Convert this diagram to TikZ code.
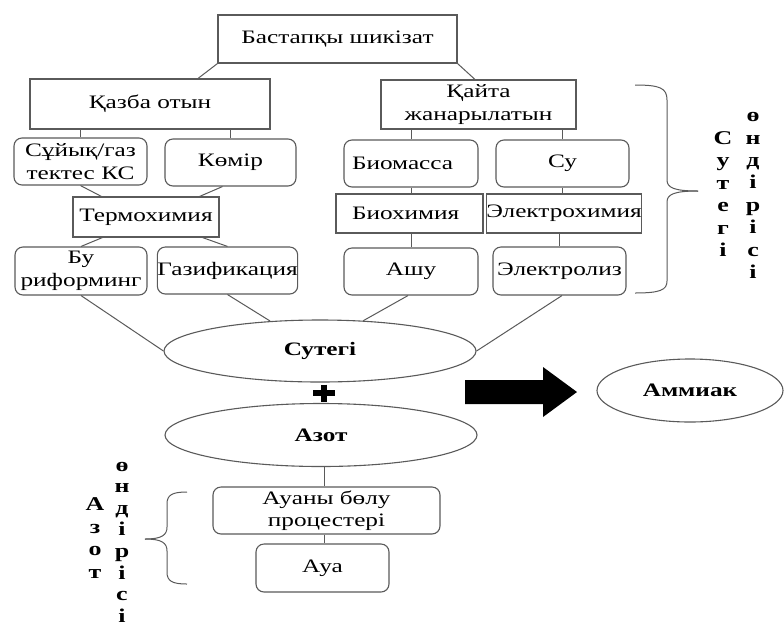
\documentclass[tikz,border=0pt]{standalone}
\usepackage{fontspec}
\setmainfont{Liberation Serif}[FakeStretch=1.33]
\usetikzlibrary{calc,shapes.geometric}
\definecolor{ln}{HTML}{5A5A5A}
\tikzset{
  base/.style={font=\fontsize{19}{22.5}\selectfont, inner sep=0pt, align=center, text=black},
  sq/.style={base, draw=ln, line width=1.1pt, rectangle},
  rd/.style={sq, rounded corners=8pt},
  el/.style={base, draw=ln, line width=1.1pt, ellipse, font=\fontsize{19}{22}\selectfont\bfseries},
  conn/.style={draw=ln, line width=1pt},
  vtext/.style={base, font=\fontsize{19.5}{22.4}\selectfont\bfseries},
}
\begin{document}
\begin{tikzpicture}[x=1pt,y=-1pt]
\useasboundingbox[fill=white] (0,0) rectangle (784,630);
% top levels
\node[sq, minimum width=239, minimum height=48] (top) at (337.5,39) {Бастапқы шикізат};
\node[sq, minimum width=240, minimum height=50] (kazba) at (150,104) {Қазба отын};
\node[sq, minimum width=195, minimum height=49] (kaita) at (478.5,104.5) {Қайта\\жанарылатын};
% left branch
\node[rd, minimum width=133, minimum height=47] (suyyk) at (80.5,161.5) {Сұйық/газ\\тектес КС};
\node[rd, minimum width=131, minimum height=47] (komir) at (230.5,162.5) {Көмір};
\node[sq, minimum width=146, minimum height=40] (termo) at (146,217) {Термохимия};
\node[rd, minimum width=132, minimum height=48] (bu) at (81,271) {Бу\\риформинг};
\node[rd, minimum width=139, minimum height=47] (gaz) at (227.5,270.5) {Газификация};
% right branch
\node[rd, minimum width=134, minimum height=47, text width=118, align=left] (biomassa) at (411,163.5) {Биомасса};
\node[rd, minimum width=133, minimum height=47] (su) at (562.5,163.5) {Су};
\node[sq, minimum width=147, minimum height=39, text width=115, align=left] (biohim) at (409.5,213.5) {Биохимия};
\node[sq, minimum width=146, minimum height=39] (elhim) at (564,213.5) {Электрохимия};
\node[rd, minimum width=134, minimum height=47] (ashu) at (411,271.5) {Ашу};
\node[rd, minimum width=133, minimum height=48] (ellz) at (559.5,271) {Электролиз};
% ellipses
\node[el, minimum width=312, minimum height=62] (sutegi) at (320,351) {Сутегі};
\node[el, minimum width=312, minimum height=63] (azot) at (321,435) {Азот};
\node[el, minimum width=186, minimum height=63] (ammiak) at (690,390.5) {Аммиак};
% nitrogen
\node[rd, minimum width=227, minimum height=47] (auany) at (326.5,510.5) {Ауаны бөлу\\процестері};
\node[rd, minimum width=133, minimum height=48] (aua) at (322.5,568) {Ауа};
% connectors
\draw[conn] (top.south west) -- ([xshift=48pt]kazba.north);
\draw[conn] (top.south east) -- ([xshift=-3.5pt]kaita.north);
\draw[conn] (suyyk.north |- kazba.south) -- (suyyk.north);
\draw[conn] (komir.north |- kazba.south) -- (komir.north);
\draw[conn] (suyyk.south) -- ([xshift=29pt]termo.north west);
\draw[conn] ([xshift=-8pt]komir.south) -- ([xshift=-20pt]termo.north east);
\draw[conn] ([xshift=30pt]termo.south west) -- (bu.north);
\draw[conn] ([xshift=-17pt]termo.south east) -- (gaz.north);
\draw[conn] (biomassa.north |- kaita.south) -- (biomassa.north);
\draw[conn] (su.north |- kaita.south) -- (su.north);
\draw[conn] (biomassa.south) -- (biomassa.south |- biohim.north);
\draw[conn] (su.south) -- (su.south |- elhim.north);
\draw[conn] (ashu.north |- biohim.south) -- (ashu.north);
\draw[conn] (ellz.north |- elhim.south) -- (ellz.north);
\draw[conn] (bu.south) -- (sutegi.west);
\draw[conn] (gaz.south) -- (sutegi.149);
\draw[conn] ([xshift=-3pt]ashu.south) -- (sutegi.35.4);
\draw[conn] ([xshift=2.5pt]ellz.south) -- (sutegi.east);
\draw[conn] ([xshift=3pt]azot.south) -- ([xshift=3pt]azot.south |- auany.north);
\draw[conn] ([xshift=3pt]azot.south |- auany.south) -- ([xshift=3pt]azot.south |- aua.north);
% plus sign
\coordinate (plus) at (324,393);
\draw[line width=6.5pt] ($(plus)+(-11,0)$) -- ($(plus)+(11,0)$);
\draw[line width=6.5pt] ($(plus)+(0,-8.5)$) -- ($(plus)+(0,8.5)$);
% big arrow
\fill[black] (465,380) -- (543,380) -- (543,367) -- (577,392) -- (543,417) -- (543,404) -- (465,404) -- cycle;
% braces
\draw[conn] (635,85) .. controls (660,85) and (667,88) .. (667,100) -- (667,180) .. controls (667,188) and (675,191) .. (698,191);
\draw[conn] (698,191) .. controls (675,191) and (667,194) .. (667,202) -- (667,281) .. controls (667,290) and (660,293) .. (635,293);
\draw[conn] (187,492) .. controls (172,492) and (167,495) .. (167,504) -- (167,527) .. controls (167,535) and (162,539) .. (145,539);
\draw[conn] (145,539) .. controls (162,539) and (167,543) .. (167,551) -- (167,572) .. controls (167,581) and (172,584) .. (187,584);
% vertical texts
\node[vtext] (v1) at (723,194) {С\\у\\т\\е\\г\\і};
\node[vtext] (v2) at (753,195.5) {ө\\н\\д\\і\\р\\і\\с\\і};
\node[vtext] (v3) at (95,538) {А\\з\\о\\т};
\node[vtext, font=\fontsize{19.5}{21.6}\selectfont\bfseries] (v4) at (122,542) {ө\\н\\д\\і\\р\\і\\с\\і};
\end{tikzpicture}
\end{document}
